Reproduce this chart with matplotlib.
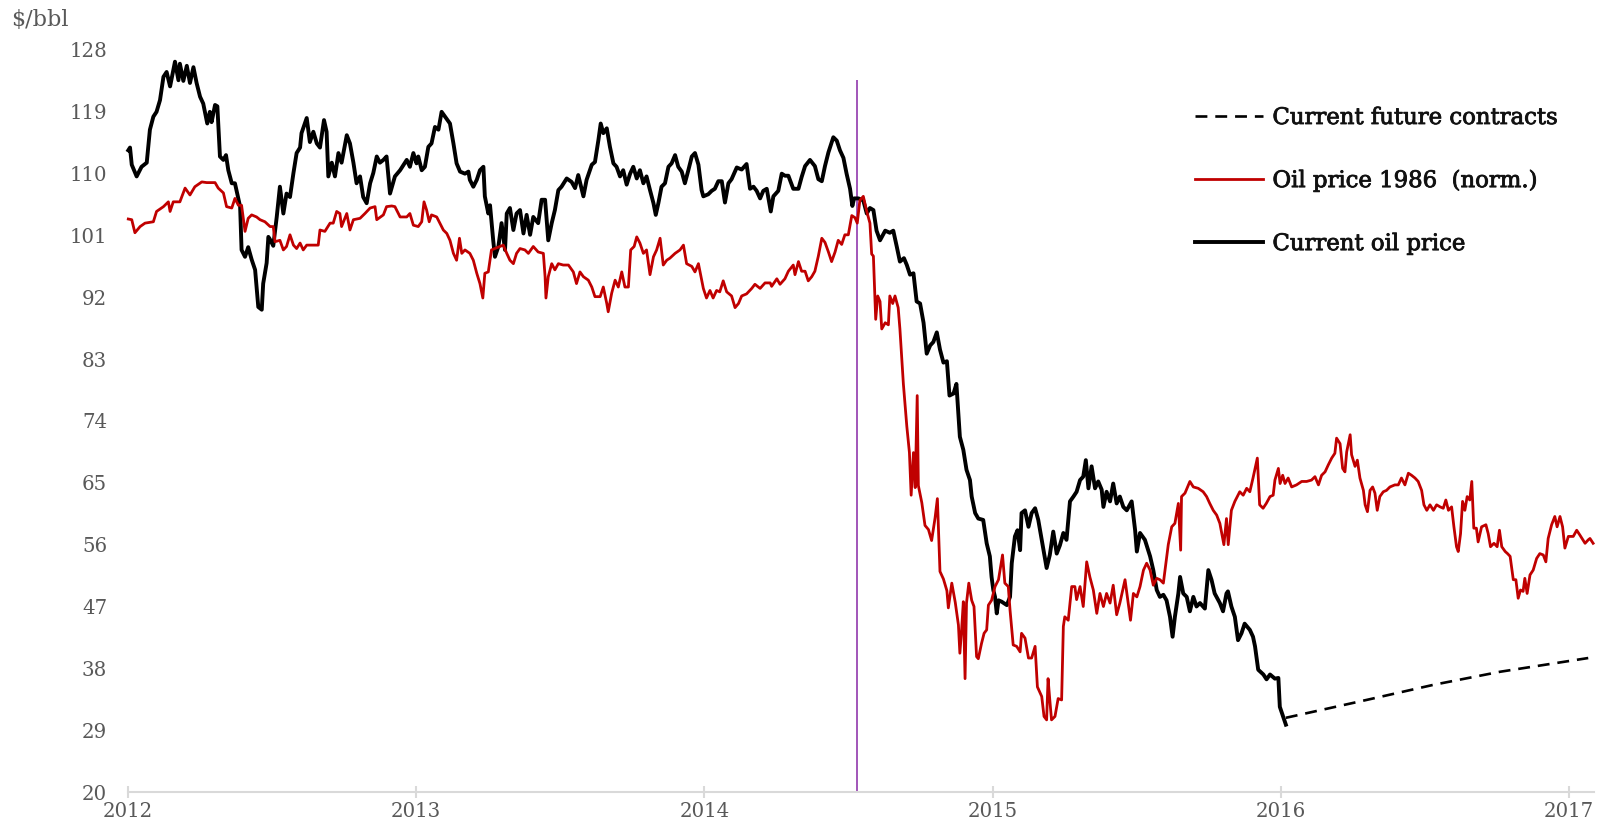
import matplotlib
matplotlib.use("Agg")
import matplotlib.pyplot as plt
from matplotlib.lines import Line2D
import matplotlib.patheffects as pe

plt.rcParams['font.family'] = ['DejaVu Serif']

START_YEAR = 2012

# ---- data (time in years since 1 Jan 2012, value in $/bbl) ----
black_t = [0.001, 0.007, 0.013, 0.030, 0.047, 0.065, 0.076, 0.088, 0.099, 0.111, 0.123, 0.134, 0.146, 0.163, 0.175, 0.180, 0.192, 0.204, 0.215, 0.227, 0.238, 0.250, 0.261, 0.275, 0.284, 0.290, 0.302, 0.310, 0.319, 0.331, 0.340, 0.348, 0.360, 0.371, 0.379, 0.389, 0.394, 0.406, 0.417, 0.429, 0.441, 0.452, 0.464, 0.469, 0.481, 0.487, 0.493, 0.504, 0.516, 0.527, 0.539, 0.550, 0.562, 0.574, 0.585, 0.597, 0.602, 0.620, 0.631, 0.643, 0.655, 0.666, 0.680, 0.689, 0.695, 0.707, 0.718, 0.730, 0.741, 0.759, 0.770, 0.782, 0.793, 0.805, 0.816, 0.828, 0.840, 0.851, 0.863, 0.874, 0.886, 0.897, 0.909, 0.926, 0.944, 0.967,
           0.978, 0.990, 1.001, 1.007, 1.019, 1.030, 1.042, 1.053, 1.065, 1.077, 1.088, 1.100, 1.117, 1.129, 1.140, 1.152, 1.169, 1.181, 1.186, 1.198, 1.210, 1.221, 1.233, 1.238, 1.250, 1.256, 1.267, 1.273, 1.285, 1.296, 1.308, 1.314, 1.325, 1.337, 1.348, 1.360, 1.372, 1.383, 1.395, 1.406, 1.423, 1.435, 1.447, 1.458, 1.470, 1.481, 1.493, 1.504, 1.522, 1.539, 1.551, 1.562, 1.580, 1.591, 1.609, 1.620, 1.632, 1.640, 1.649, 1.661, 1.672, 1.684, 1.695, 1.707, 1.718, 1.730, 1.742, 1.753, 1.765, 1.776, 1.788, 1.799, 1.811, 1.823, 1.831, 1.840, 1.851, 1.863, 1.875, 1.886, 1.898, 1.909, 1.921, 1.932, 1.944, 1.956, 1.967, 1.979,
           1.990, 1.996, 2.013, 2.025, 2.036, 2.048, 2.060, 2.071, 2.083, 2.094, 2.112, 2.129, 2.146, 2.158, 2.170, 2.181, 2.193, 2.204, 2.216, 2.230, 2.239, 2.256, 2.268, 2.279, 2.291, 2.308, 2.326, 2.337, 2.349, 2.366, 2.383, 2.395, 2.407, 2.418, 2.430, 2.447, 2.459, 2.470, 2.482, 2.493, 2.505, 2.513, 2.519, 2.534, 2.551, 2.563, 2.574, 2.586, 2.597, 2.609, 2.627, 2.643, 2.655, 2.667, 2.678, 2.692, 2.702, 2.713, 2.725, 2.736, 2.748, 2.760, 2.771, 2.783, 2.794, 2.806, 2.817, 2.829, 2.841, 2.850, 2.864, 2.874,
           2.886, 2.898, 2.909, 2.921, 2.927, 2.939, 2.950, 2.967, 2.979, 2.990, 2.996, 3.002, 3.008, 3.014, 3.020, 3.031, 3.049, 3.060, 3.066, 3.077, 3.086, 3.095, 3.100, 3.112, 3.124, 3.135, 3.147, 3.158, 3.170, 3.187, 3.198, 3.210, 3.222, 3.233, 3.245, 3.256, 3.268, 3.280, 3.291, 3.303, 3.314, 3.323, 3.332, 3.343, 3.355, 3.366, 3.378, 3.384, 3.395, 3.407, 3.418, 3.430, 3.441, 3.453, 3.465, 3.482, 3.494, 3.500, 3.511, 3.528, 3.546, 3.557, 3.569, 3.580, 3.592, 3.603, 3.615, 3.624, 3.632, 3.644, 3.650, 3.661, 3.673, 3.684, 3.696, 3.707, 3.719, 3.736, 3.748, 3.759, 3.770, 3.788, 3.799, 3.811, 3.816, 3.828, 3.840, 3.851, 3.863, 3.874, 3.892, 3.903,
           3.910, 3.921, 3.939, 3.950, 3.962, 3.979, 3.991, 3.996, 4.008, 4.017]
black_v = [113.4, 113.8, 111.3, 109.6, 111.0, 111.6, 116.4, 118.3, 119.0, 120.7, 124.1, 124.8, 122.7, 126.3, 123.6, 126.0, 123.5, 125.7, 123.2, 125.5, 123.2, 121.2, 120.2, 117.3, 119.0, 117.5, 120.0, 119.8, 112.5, 112.0, 112.7, 110.5, 108.6, 108.6, 107.1, 105.2, 98.9, 97.9, 99.3, 97.5, 96.0, 90.6, 90.2, 94.0, 97.0, 100.8, 100.4, 99.5, 103.7, 108.1, 104.2, 107.1, 106.6, 110.1, 113.0, 113.8, 115.9, 118.1, 114.6, 116.1, 114.4, 113.8, 117.8, 116.1, 109.6, 111.6, 109.6, 113.0, 111.6, 115.6, 114.4, 111.6, 108.6, 109.6, 106.6, 105.7, 108.6, 110.1, 112.5, 111.6, 112.0, 112.5, 107.1, 109.6, 110.5, 112.0,
           111.0, 113.0, 111.5, 112.5, 110.5, 111.0, 113.9, 114.4, 116.8, 116.4, 119.0, 118.3, 117.3, 114.4, 111.5, 110.3, 110.0, 110.3, 109.1, 108.1, 109.1, 110.5, 111.0, 106.7, 104.2, 105.4, 100.3, 97.9, 99.4, 102.8, 98.9, 104.2, 105.0, 101.8, 104.2, 104.7, 101.3, 104.0, 101.1, 103.7, 102.8, 106.2, 106.2, 100.3, 102.8, 104.7, 107.6, 108.1, 109.3, 108.8, 107.9, 109.8, 106.7, 109.1, 111.3, 111.7, 114.9, 117.3, 115.9, 116.6, 113.9, 111.5, 111.0, 109.6, 110.5, 108.4, 110.0, 111.0, 109.3, 110.5, 108.6, 109.6, 107.6, 105.7, 104.0, 105.7, 108.1, 108.6, 111.0, 111.5, 112.7, 111.0, 110.3, 108.6, 110.5, 112.5, 113.0, 111.3,
           107.6, 106.7, 107.0, 107.5, 107.8, 108.9, 108.9, 105.8, 108.6, 109.2, 110.9, 110.6, 111.4, 107.8, 108.1, 107.5, 106.4, 107.5, 107.8, 104.5, 106.7, 107.5, 110.0, 109.7, 109.7, 107.8, 107.8, 109.5, 111.1, 112.0, 111.1, 109.2, 108.9, 111.1, 113.1, 115.3, 114.8, 113.4, 112.3, 110.0, 107.8, 105.3, 106.4, 106.4, 106.1, 104.2, 105.0, 104.7, 101.7, 100.3, 101.7, 101.4, 101.7, 99.4, 97.2, 97.7, 96.7, 95.3, 95.5, 91.4, 91.1, 88.3, 83.8, 85.0, 85.5, 86.9, 84.4, 82.5, 82.7, 77.7, 78.0, 79.4,
           71.7, 69.8, 66.9, 65.4, 63.0, 60.6, 59.8, 59.6, 56.2, 54.3, 51.3, 49.4, 48.4, 46.0, 47.9, 47.7, 47.2, 48.4, 53.3, 57.2, 58.1, 55.2, 60.6, 61.0, 58.6, 60.6, 61.3, 59.6, 56.7, 52.6, 54.5, 57.9, 54.7, 55.9, 57.7, 56.7, 62.3, 63.0, 63.7, 65.4, 65.9, 68.3, 64.2, 67.4, 64.2, 65.2, 64.0, 61.5, 63.7, 62.3, 64.9, 62.0, 63.0, 61.5, 61.0, 62.3, 58.1, 55.0, 57.7, 56.7, 54.3, 52.3, 49.4, 48.4, 48.7, 47.9, 45.5, 42.6, 45.5, 48.9, 51.3, 48.9, 48.4, 46.3, 48.4, 47.0, 47.5, 46.7, 52.3, 50.9, 48.9, 47.5, 46.3, 48.9, 49.2, 47.0, 45.5, 42.1, 43.1, 44.5, 43.6, 42.6,
           41.2, 37.8, 37.1, 36.4, 37.1, 36.5, 36.6, 32.4, 30.9, 29.8]

red_t = [0.001, 0.013, 0.024, 0.042, 0.059, 0.088, 0.099, 0.123, 0.140, 0.146, 0.157, 0.180, 0.198, 0.215, 0.232, 0.256, 0.273, 0.302, 0.313, 0.331, 0.342, 0.360, 0.371, 0.383, 0.394, 0.406, 0.417, 0.429, 0.446, 0.458, 0.475, 0.493, 0.504, 0.510, 0.527, 0.539, 0.550, 0.562, 0.574, 0.585, 0.597, 0.608, 0.620, 0.660, 0.666, 0.683, 0.701, 0.712, 0.724, 0.735, 0.741, 0.759, 0.770, 0.782, 0.805, 0.822, 0.840, 0.857, 0.863, 0.886, 0.897, 0.915, 0.926, 0.944, 0.967,
         0.978, 0.990, 1.007, 1.019, 1.027, 1.036, 1.045, 1.053, 1.071, 1.082, 1.094, 1.106, 1.117, 1.129, 1.140, 1.150, 1.158, 1.169, 1.186, 1.198, 1.210, 1.221, 1.231, 1.238, 1.250, 1.261, 1.273, 1.290, 1.302, 1.314, 1.325, 1.337, 1.348, 1.360, 1.377, 1.389, 1.406, 1.423, 1.441, 1.447, 1.450, 1.458, 1.470, 1.481, 1.493, 1.510, 1.528, 1.545, 1.556, 1.568, 1.580, 1.597, 1.609, 1.620, 1.638, 1.649, 1.661, 1.666, 1.678, 1.690, 1.701, 1.713, 1.724, 1.736, 1.744, 1.756, 1.765, 1.776, 1.788, 1.799, 1.811, 1.823, 1.834, 1.846, 1.857, 1.869, 1.880, 1.898, 1.915, 1.927, 1.938, 1.956, 1.967, 1.979,
         1.996, 2.007, 2.019, 2.030, 2.042, 2.053, 2.065, 2.077, 2.094, 2.106, 2.118, 2.129, 2.146, 2.164, 2.175, 2.193, 2.210, 2.228, 2.233, 2.251, 2.262, 2.279, 2.291, 2.308, 2.314, 2.326, 2.337, 2.349, 2.360, 2.372, 2.383, 2.395, 2.407, 2.418, 2.430, 2.441, 2.453, 2.464, 2.476, 2.487, 2.499, 2.511, 2.522, 2.530, 2.539, 2.551, 2.563, 2.574, 2.580, 2.586, 2.594, 2.601, 2.609, 2.615, 2.627, 2.638, 2.643, 2.653, 2.661, 2.672, 2.678, 2.690, 2.702, 2.711, 2.717, 2.725, 2.731, 2.738, 2.742, 2.754, 2.765, 2.777, 2.788, 2.800, 2.808, 2.817, 2.829, 2.841, 2.846, 2.858, 2.870, 2.881,
         2.886, 2.892, 2.898, 2.904, 2.909, 2.917, 2.927, 2.935, 2.944, 2.950, 2.961, 2.970, 2.979, 2.985, 2.996, 3.008, 3.020, 3.034, 3.042, 3.054, 3.060, 3.071, 3.083, 3.095, 3.100, 3.112, 3.124, 3.135, 3.147, 3.155, 3.170, 3.178, 3.187, 3.192, 3.198, 3.204, 3.216, 3.227, 3.239, 3.245, 3.250, 3.262, 3.274, 3.285, 3.291, 3.303, 3.314, 3.326, 3.337, 3.349, 3.361, 3.372, 3.384, 3.395, 3.407, 3.418, 3.430, 3.441, 3.459, 3.470, 3.478, 3.488, 3.500, 3.511, 3.523, 3.534, 3.546, 3.557, 3.569, 3.580, 3.592, 3.601, 3.609, 3.621, 3.632, 3.644, 3.652, 3.655, 3.667, 3.684, 3.696, 3.713, 3.730, 3.742, 3.753, 3.765, 3.777, 3.788, 3.802, 3.811, 3.817, 3.828, 3.840, 3.857, 3.869, 3.881, 3.892, 3.903, 3.918, 3.926, 3.938, 3.949,
         3.962, 3.973, 3.979, 3.991, 3.997, 4.006, 4.014, 4.025, 4.037, 4.054, 4.072, 4.089, 4.106, 4.118, 4.130, 4.141, 4.153, 4.164, 4.176, 4.187, 4.193, 4.205, 4.214, 4.222, 4.228, 4.240, 4.245, 4.257, 4.265, 4.274, 4.286, 4.292, 4.300, 4.309, 4.318, 4.326, 4.334, 4.343, 4.355, 4.366, 4.378, 4.395, 4.407, 4.418, 4.430, 4.442, 4.453, 4.465, 4.476, 4.488, 4.496, 4.506, 4.517, 4.529, 4.540, 4.552, 4.563, 4.572, 4.581, 4.592, 4.600, 4.609, 4.615, 4.623, 4.630, 4.638, 4.646, 4.655, 4.662, 4.669, 4.678, 4.684, 4.696, 4.711, 4.719, 4.727, 4.739, 4.750, 4.758, 4.766, 4.778, 4.786, 4.795, 4.806, 4.815, 4.823, 4.831, 4.840, 4.846, 4.854, 4.864, 4.875, 4.887, 4.898, 4.910, 4.919, 4.927, 4.939, 4.950, 4.958, 4.968, 4.977, 4.985, 4.997, 5.014, 5.026, 5.037, 5.055, 5.066, 5.072, 5.083]
red_v = [103.4, 103.3, 101.4, 102.3, 102.8, 103.0, 104.5, 105.2, 105.9, 104.5, 105.9, 105.9, 107.9, 106.9, 108.1, 108.8, 108.7, 108.7, 107.9, 107.2, 105.2, 105.0, 106.4, 105.4, 105.4, 101.6, 103.5, 104.0, 103.7, 103.3, 103.0, 102.3, 102.3, 100.1, 100.3, 98.9, 99.4, 101.1, 99.6, 99.1, 99.9, 98.9, 99.6, 99.6, 101.8, 101.6, 102.8, 102.8, 104.5, 104.2, 102.3, 104.2, 101.8, 103.3, 103.5, 104.2, 105.0, 105.2, 103.3, 104.0, 105.2, 105.3, 105.2, 103.7, 103.7,
         104.2, 102.5, 102.3, 103.0, 105.9, 104.7, 103.0, 104.0, 103.7, 102.8, 101.8, 101.3, 100.3, 98.4, 97.4, 100.6, 98.4, 98.9, 98.4, 97.4, 95.5, 94.0, 91.9, 95.5, 95.7, 98.9, 99.1, 99.4, 99.6, 98.4, 97.4, 96.9, 98.4, 99.1, 98.9, 98.4, 99.4, 98.6, 98.4, 95.0, 91.9, 95.0, 96.9, 96.0, 96.9, 96.7, 96.7, 95.7, 94.0, 95.7, 95.0, 94.5, 93.5, 92.1, 92.1, 93.5, 91.1, 89.9, 92.6, 94.5, 93.5, 95.7, 93.5, 93.5, 98.9, 99.4, 100.8, 99.9, 98.4, 98.9, 95.3, 97.9, 98.9, 100.6, 96.7, 97.4, 97.7, 98.4, 98.9, 99.6, 96.9, 96.5, 95.7, 96.9,
         93.3, 91.9, 93.0, 91.9, 93.0, 92.8, 94.4, 92.8, 92.2, 90.5, 91.1, 92.2, 92.5, 93.3, 93.9, 93.3, 94.1, 94.1, 93.6, 94.7, 93.9, 94.7, 95.8, 96.7, 95.3, 97.2, 95.8, 95.8, 94.4, 95.0, 95.8, 98.0, 100.6, 100.0, 98.6, 97.2, 98.6, 100.3, 99.7, 101.1, 101.1, 103.9, 103.6, 102.8, 106.1, 106.7, 104.5, 102.8, 98.3, 98.0, 88.8, 92.2, 91.4, 87.4, 88.3, 88.0, 92.2, 91.1, 92.2, 90.5, 87.4, 79.4, 73.2, 69.4, 63.2, 69.4, 64.3, 77.7, 64.6, 62.1, 58.8, 58.2, 56.6, 59.9, 62.7, 52.1, 51.0, 49.3, 46.8, 50.4, 47.6, 44.3,
         40.2, 43.6, 47.7, 36.5, 47.5, 50.4, 47.9, 47.0, 39.7, 39.4, 41.6, 43.1, 43.6, 47.2, 47.9, 49.9, 50.9, 54.5, 50.4, 49.9, 46.5, 41.4, 41.2, 40.4, 43.1, 42.4, 39.5, 39.5, 41.2, 35.3, 33.9, 31.0, 30.5, 36.5, 33.4, 30.5, 31.0, 33.6, 33.4, 44.1, 45.5, 45.0, 49.9, 49.9, 48.0, 49.9, 47.0, 53.5, 51.3, 49.4, 46.0, 48.9, 47.0, 48.9, 47.5, 50.1, 45.8, 47.5, 50.9, 47.5, 45.0, 48.9, 48.4, 49.9, 52.3, 53.3, 52.3, 50.1, 51.1, 50.9, 50.4, 53.3, 56.0, 58.6, 59.1, 62.0, 55.2, 63.0, 63.5, 65.2, 64.4, 64.2, 63.7, 63.0, 62.0, 61.0, 60.3, 59.1, 56.0, 59.8, 56.0, 61.0, 62.3, 63.7, 63.2, 64.2, 63.7, 65.7, 68.6, 61.8, 61.3, 62.0,
         63.0, 63.2, 65.4, 67.1, 64.9, 66.1, 64.9, 65.7, 64.4, 64.7, 65.2, 65.2, 65.4, 65.9, 64.7, 66.1, 66.6, 67.6, 68.6, 69.3, 71.5, 70.7, 67.1, 66.6, 69.5, 72.0, 69.1, 67.4, 68.3, 65.7, 63.9, 61.8, 60.8, 63.9, 64.4, 63.5, 61.0, 63.0, 63.7, 63.9, 64.4, 64.7, 64.7, 65.7, 64.7, 66.4, 66.1, 65.7, 65.2, 63.9, 61.8, 61.0, 61.8, 61.0, 61.8, 61.5, 61.3, 62.5, 61.0, 61.5, 58.6, 55.7, 55.0, 57.6, 62.3, 61.0, 63.0, 62.5, 65.2, 58.4, 58.4, 56.4, 58.6, 58.9, 57.6, 55.7, 56.2, 55.7, 58.1, 55.7, 55.0, 54.7, 54.3, 50.9, 50.9, 48.2, 49.4, 49.2, 51.1, 48.9, 51.6, 52.3, 54.0, 54.7, 54.5, 53.5, 56.9, 58.9, 60.1, 58.6, 60.1, 58.6, 55.5, 57.2, 57.2, 58.1, 57.4, 56.2, 56.7, 56.9, 56.2]

futures_t = [4.017, 4.297, 4.529, 4.760, 5.066]
futures_v = [30.8, 33.4, 35.6, 37.5, 39.5]

marker_t = 2.529          # vertical marker (start of 1986 analogue)
marker_top = 123.6

year_ticks = [2012, 2013, 2014, 2015, 2016, 2017]
y_ticks = [20, 29, 38, 47, 56, 65, 74, 83, 92, 101, 110, 119, 128]

labels = ["Current future contracts", "Oil price 1986  (norm.)", "Current oil price"]

# ---- figure ----
W, H = 1604, 833
fig = plt.figure(figsize=(W / 100, H / 100), dpi=100)
ax = fig.add_axes([128 / W, 1 - 792 / H, (1594 - 128) / W, (792 - 50) / H])

bx = [START_YEAR + t for t in black_t]
rx = [START_YEAR + t for t in red_t]
fx = [START_YEAR + t for t in futures_t]

DASH = (4.5, 3.0)
ax.plot(bx, black_v, color='black', lw=2.8, solid_joinstyle='round', clip_on=False, zorder=3)
ax.plot(rx, red_v, color='#c00000', lw=2.0, solid_joinstyle='round', clip_on=False, zorder=4)
ax.plot(fx, futures_v, color='black', lw=1.9, dashes=DASH, clip_on=False, zorder=3)
ax.vlines(START_YEAR + marker_t, 20, marker_top, color='#a155b9', lw=1.4, zorder=2)

ax.set_xlim(2012, 2017.086)
ax.set_ylim(20, 128)

for s in ['left', 'right', 'top']:
    ax.spines[s].set_visible(False)
ax.spines['bottom'].set_color('#d9d9d9')
ax.spines['bottom'].set_linewidth(1.5)

ax.set_xticks(year_ticks)
ax.set_xticklabels([str(y) for y in year_ticks])
ax.set_yticks(y_ticks)
ax.set_yticklabels([str(v) for v in y_ticks])
ax.tick_params(axis='x', direction='inout', length=9, width=1.5, color='#d9d9d9',
               labelsize=14.2, labelcolor='#595959', pad=3)
ax.tick_params(axis='y', length=0, labelsize=14.2, labelcolor='#595959', pad=15)

fig.text(11 / W, 1 - 20 / H, r'\$/bbl', fontsize=16, color='#595959', va='center', ha='left')

handles = [Line2D([], [], color='black', lw=1.9, dashes=DASH),
           Line2D([], [], color='#c00000', lw=2.0),
           Line2D([], [], color='black', lw=2.8)]
leg = fig.legend(handles, labels, loc='upper left', bbox_to_anchor=(1195 / W, 1 - 107 / H),
                 frameon=False, fontsize=16.4, handlelength=3.0, handletextpad=0.4,
                 labelspacing=1.8, borderpad=0, borderaxespad=0)
for t in leg.get_texts():
    t.set_color('#111111')
    t.set_path_effects([pe.withStroke(linewidth=0.6, foreground='#111111')])

fig.savefig('out.png', dpi=100)
